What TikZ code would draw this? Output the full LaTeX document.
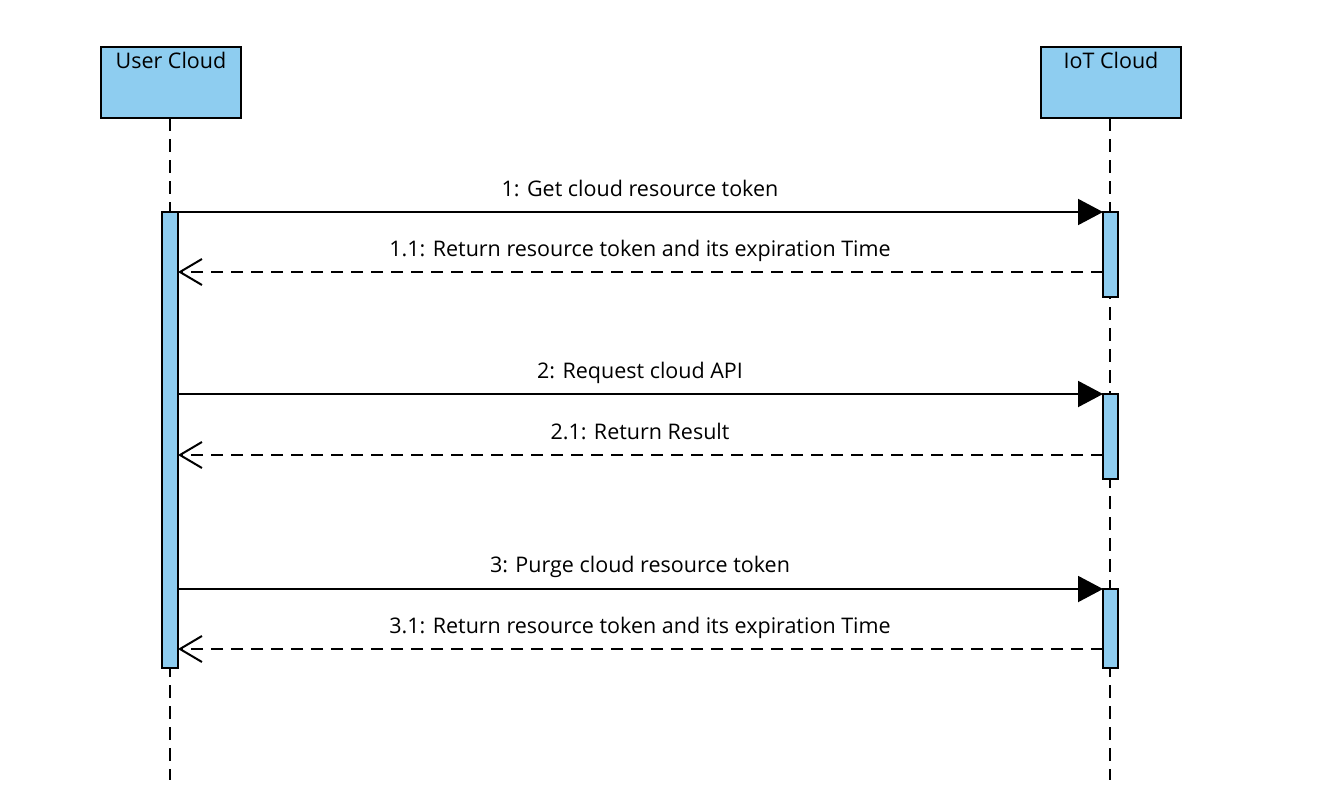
\documentclass[tikz,border=0pt]{standalone}
\usepackage{fontspec}
\setmainfont{Open Sans}
\usetikzlibrary{arrows.meta}
\definecolor{actblue}{HTML}{8ECDF0}
\begin{document}
\begin{tikzpicture}[x=1pt,y=-1pt,
  every node/.style={font=\fontsize{21.5}{25}\selectfont},
  actor/.style={draw=black,line width=2pt,fill=actblue,minimum width=140pt,minimum height=71pt,anchor=north west,inner sep=0pt},
  lifeline/.style={line width=2pt,dash pattern=on 13pt off 8pt},
  act/.style={draw=black,line width=2pt,fill=actblue},
  sync/.style={line width=2pt,-{Triangle[length=25pt,width=26pt]}},
  reply/.style={line width=2pt,dash pattern=on 12pt off 8pt,-{Straight Barb[length=22pt,width=26pt,line width=2pt]}},
  msglbl/.style={anchor=base}
]
\useasboundingbox (0,0) rectangle (1328,800);
\fill[white] (0,0) rectangle (1328,800);
% lifelines
\coordinate (uTop) at (170,118);
\coordinate (uBot) at (170,780);
\coordinate (iTop) at (1110,118);
\coordinate (iBot) at (1110,780);
\draw[lifeline] (uTop) -- (uBot);
\draw[lifeline] (iTop) -- (iBot);
% actors
\node[actor] (user) at (100,46) {};
\node[anchor=north] at ([yshift=-3pt]user.north) {User Cloud};
\node[actor] (iot) at (1040,46) {};
\node[anchor=north] at ([yshift=-3pt]iot.north) {IoT Cloud};
% activations
\path[act] (162,212) rectangle (178,668);
\path[act] (1103,212) rectangle (1118,297);
\path[act] (1103,394) rectangle (1118,479);
\path[act] (1103,589) rectangle (1118,668);
% messages
\coordinate (u1) at (178,212); \coordinate (i1) at (1103,212);
\coordinate (u11) at (178,272); \coordinate (i11) at (1103,272);
\coordinate (u2) at (178,394); \coordinate (i2) at (1103,394);
\coordinate (u21) at (178,455); \coordinate (i21) at (1103,455);
\coordinate (u3) at (178,589); \coordinate (i3) at (1103,589);
\coordinate (u31) at (178,649); \coordinate (i31) at (1103,649);
\draw[sync] (u1) -- (i1);
\draw[reply] (i11) -- (u11);
\draw[sync] (u2) -- (i2);
\draw[reply] (i21) -- (u21);
\draw[sync] (u3) -- (i3);
\draw[reply] (i31) -- (u31);
% labels
\node[msglbl] (l1) at (640,196) {1: Get cloud resource token};
\node[msglbl] (l11) at (640,256) {1.1: Return resource token and its expiration Time};
\node[msglbl] (l2) at (640,378) {2: Request cloud API};
\node[msglbl] (l21) at (640,439) {2.1: Return Result};
\node[msglbl] (l3) at (640,572) {3: Purge cloud resource token};
\node[msglbl] (l31) at (640,633) {3.1: Return resource token and its expiration Time};
\end{tikzpicture}
\end{document}
